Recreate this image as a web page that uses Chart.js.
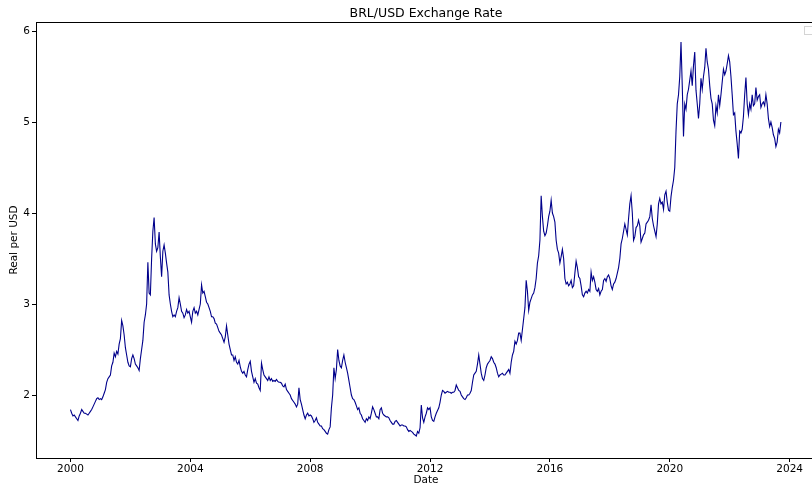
<!DOCTYPE html>
<html>
<head>
<meta charset="utf-8">
<title>BRL/USD Exchange Rate</title>
<script src="https://cdn.jsdelivr.net/npm/chart.js@4.4.1/dist/chart.umd.min.js"></script>
<style>
  html, body { margin: 0; padding: 0; background: #fff; overflow: hidden; }
  #wrap { width: 816px; height: 486px; }
</style>
</head>
<body>
<div id="wrap"><canvas id="rateChart" width="816" height="486"></canvas></div>
<script>
// BRL per USD, two readings a month (1st and 15th)
const startYear = 2000;
const rates2000 = [1.84, 1.80, 1.77, 1.78, 1.76, 1.74, 1.72, 1.77, 1.80, 1.84, 1.82, 1.80, 1.80, 1.79, 1.78, 1.80, 1.82, 1.84, 1.87, 1.90, 1.93, 1.96, 1.97, 1.95];
const rates2001 = [1.96, 1.95, 1.98, 2.02, 2.06, 2.14, 2.18, 2.20, 2.22, 2.32, 2.36, 2.46, 2.42, 2.48, 2.45, 2.56, 2.62, 2.82, 2.76, 2.66, 2.52, 2.44, 2.36, 2.32];
const rates2002 = [2.31, 2.40, 2.44, 2.40, 2.34, 2.32, 2.30, 2.27, 2.40, 2.50, 2.60, 2.80, 2.88, 3.00, 3.46, 3.12, 3.10, 3.50, 3.80, 3.95, 3.66, 3.58, 3.62, 3.79];
const rates2003 = [3.52, 3.30, 3.58, 3.65, 3.56, 3.45, 3.35, 3.10, 3.00, 2.92, 2.86, 2.88, 2.86, 2.92, 2.96, 3.07, 3.00, 2.92, 2.90, 2.85, 2.88, 2.94, 2.90, 2.92];
const rates2004 = [2.86, 2.80, 2.92, 2.96, 2.90, 2.92, 2.88, 2.94, 3.00, 3.21, 3.12, 3.14, 3.08, 3.02, 3.00, 2.96, 2.92, 2.86, 2.86, 2.84, 2.79, 2.78, 2.74, 2.70];
const rates2005 = [2.68, 2.66, 2.62, 2.58, 2.64, 2.76, 2.66, 2.56, 2.50, 2.44, 2.44, 2.38, 2.42, 2.36, 2.34, 2.38, 2.31, 2.26, 2.24, 2.26, 2.22, 2.20, 2.28, 2.34];
const rates2006 = [2.37, 2.26, 2.20, 2.14, 2.18, 2.13, 2.12, 2.08, 2.05, 2.35, 2.28, 2.22, 2.20, 2.18, 2.16, 2.20, 2.16, 2.18, 2.15, 2.16, 2.15, 2.17, 2.15, 2.14];
const rates2007 = [2.14, 2.13, 2.10, 2.09, 2.12, 2.06, 2.04, 2.02, 2.00, 1.96, 1.94, 1.92, 1.90, 1.87, 1.90, 2.08, 1.95, 1.90, 1.84, 1.78, 1.74, 1.78, 1.80, 1.77];
const rates2008 = [1.78, 1.77, 1.74, 1.70, 1.72, 1.75, 1.70, 1.68, 1.66, 1.66, 1.63, 1.62, 1.60, 1.58, 1.57, 1.62, 1.65, 1.86, 2.00, 2.30, 2.18, 2.28, 2.50, 2.38];
const rates2009 = [2.32, 2.30, 2.38, 2.44, 2.36, 2.30, 2.24, 2.16, 2.08, 2.00, 1.96, 1.95, 1.92, 1.88, 1.84, 1.86, 1.80, 1.78, 1.74, 1.72, 1.70, 1.74, 1.72, 1.76];
const rates2010 = [1.74, 1.80, 1.87, 1.84, 1.80, 1.76, 1.76, 1.74, 1.84, 1.86, 1.80, 1.78, 1.77, 1.76, 1.76, 1.75, 1.72, 1.70, 1.68, 1.68, 1.71, 1.72, 1.70, 1.68];
const rates2011 = [1.66, 1.67, 1.67, 1.66, 1.66, 1.65, 1.62, 1.60, 1.61, 1.60, 1.59, 1.57, 1.56, 1.55, 1.60, 1.58, 1.64, 1.89, 1.75, 1.70, 1.76, 1.80, 1.86, 1.84];
const rates2012 = [1.86, 1.76, 1.72, 1.71, 1.76, 1.80, 1.83, 1.86, 1.92, 2.00, 2.05, 2.04, 2.02, 2.03, 2.04, 2.03, 2.03, 2.02, 2.03, 2.03, 2.05, 2.11, 2.08, 2.05];
const rates2013 = [2.04, 2.00, 1.98, 1.96, 1.95, 1.97, 2.00, 2.00, 2.02, 2.05, 2.14, 2.22, 2.24, 2.26, 2.34, 2.44, 2.34, 2.24, 2.18, 2.16, 2.22, 2.30, 2.34, 2.36];
const rates2014 = [2.38, 2.42, 2.40, 2.36, 2.34, 2.30, 2.24, 2.20, 2.22, 2.23, 2.24, 2.22, 2.22, 2.24, 2.26, 2.28, 2.24, 2.36, 2.44, 2.48, 2.59, 2.56, 2.60, 2.68];
const rates2015 = [2.68, 2.60, 2.72, 2.84, 2.96, 3.26, 3.14, 2.93, 3.02, 3.06, 3.10, 3.12, 3.18, 3.28, 3.45, 3.53, 3.70, 4.19, 3.96, 3.80, 3.75, 3.78, 3.86, 3.96];
const rates2016 = [4.02, 4.14, 4.00, 3.96, 3.90, 3.70, 3.60, 3.56, 3.45, 3.52, 3.60, 3.50, 3.28, 3.22, 3.24, 3.20, 3.22, 3.26, 3.18, 3.20, 3.34, 3.47, 3.40, 3.30];
const rates2017 = [3.28, 3.20, 3.10, 3.08, 3.12, 3.14, 3.12, 3.16, 3.14, 3.35, 3.26, 3.30, 3.24, 3.16, 3.14, 3.17, 3.10, 3.14, 3.16, 3.26, 3.28, 3.25, 3.30, 3.32];
const rates2018 = [3.28, 3.20, 3.16, 3.22, 3.24, 3.28, 3.34, 3.40, 3.50, 3.66, 3.72, 3.80, 3.88, 3.82, 3.76, 3.94, 4.10, 4.19, 4.00, 3.70, 3.74, 3.84, 3.86, 3.92];
const rates2019 = [3.86, 3.68, 3.72, 3.76, 3.78, 3.88, 3.90, 3.92, 3.96, 4.09, 3.94, 3.86, 3.80, 3.74, 3.88, 4.10, 4.16, 4.10, 4.12, 4.04, 4.20, 4.24, 4.12, 4.03];
const rates2020 = [4.02, 4.18, 4.28, 4.36, 4.50, 4.90, 5.20, 5.30, 5.50, 5.88, 5.40, 4.84, 5.20, 5.14, 5.30, 5.36, 5.46, 5.56, 5.40, 5.62, 5.77, 5.35, 5.20, 5.04];
const rates2021 = [5.20, 5.48, 5.36, 5.50, 5.60, 5.81, 5.66, 5.58, 5.40, 5.26, 5.20, 5.02, 4.96, 5.18, 5.10, 5.30, 5.18, 5.30, 5.44, 5.58, 5.52, 5.56, 5.64, 5.73];
const rates2022 = [5.66, 5.50, 5.30, 5.08, 5.10, 4.90, 4.76, 4.60, 4.90, 4.88, 4.92, 5.06, 5.30, 5.49, 5.20, 5.08, 5.20, 5.14, 5.30, 5.18, 5.20, 5.38, 5.24, 5.28];
const rates2023 = [5.30, 5.16, 5.20, 5.22, 5.18, 5.30, 5.20, 5.04, 4.95, 5.00, 4.94, 4.86, 4.82, 4.73, 4.78, 4.92, 4.88, 5.00];

const yearTicks = [2000, 2004, 2008, 2012, 2016, 2020, 2024];
const rateTicks = [2, 3, 4, 5, 6];

const allYears = [rates2000, rates2001, rates2002, rates2003, rates2004, rates2005, rates2006, rates2007,
  rates2008, rates2009, rates2010, rates2011, rates2012, rates2013, rates2014, rates2015,
  rates2016, rates2017, rates2018, rates2019, rates2020, rates2021, rates2022, rates2023];

// each year gets 24 slots, so slot k sits at year + k/24
const points = [];
allYears.forEach((vals, i) => {
  vals.forEach((v, k) => points.push({ x: startYear + i + k / 24, y: v }));
});

const baseFont = { family: "'DejaVu Sans', sans-serif", size: 10.5 };
const labelFont = { family: "'DejaVu Sans', sans-serif", size: 10.5, lineHeight: 1.0 };

// draws the box round the plot and the empty legend frame in the corner
const framePlugin = {
  id: 'frame',
  afterDraw(chart) {
    const { ctx, chartArea: a } = chart;
    ctx.save();
    ctx.strokeStyle = '#000';
    ctx.lineWidth = 1;
    ctx.strokeRect(a.left + 0.5, a.top + 0.5, a.right - a.left - 1, a.bottom - a.top);
    ctx.strokeStyle = '#d4d4d4';
    ctx.strokeRect(a.right - 11.5, a.top + 4.5, 10, 8);
    ctx.restore();
  }
};

const ctx = document.getElementById('rateChart').getContext('2d');
const rateChart = new Chart(ctx, {
  type: 'line',
  data: {
    datasets: [{
      data: points,
      borderColor: '#00008b',
      borderWidth: 1.1,
      pointRadius: 0,
      tension: 0,
      fill: false
    }]
  },
  options: {
    responsive: false,
    animation: false,
    layout: { padding: 0 },
    plugins: {
      legend: { display: false },
      tooltip: { enabled: false },
      title: {
        display: true,
        fullSize: false,
        text: 'BRL/USD Exchange Rate',
        color: '#000',
        font: { family: "'DejaVu Sans', sans-serif", size: 12.5, weight: 'normal', lineHeight: 1.2 },
        padding: { top: 6, bottom: 1 }
      }
    },
    scales: {
      x: {
        type: 'linear',
        min: 1998.85,
        max: 2024.88,
        afterBuildTicks: s => { s.ticks = yearTicks.map(v => ({ value: v })); },
        afterFit: s => { s.height = 28; },
        ticks: { callback: v => String(v), color: '#000', font: baseFont, padding: 1, maxRotation: 0, autoSkip: false },
        grid: { display: true, drawOnChartArea: false, drawTicks: true, tickLength: 4, color: '#000' },
        border: { display: true, color: '#000', width: 1 },
        title: { display: true, text: 'Date', color: '#000', font: labelFont, padding: { top: 0, bottom: 0 } }
      },
      y: {
        min: 1.308,
        max: 6.099,
        afterBuildTicks: s => { s.ticks = rateTicks.map(v => ({ value: v })); },
        afterFit: s => { s.width = 36; },
        ticks: { callback: v => String(v), color: '#000', font: baseFont, padding: 2 },
        grid: { display: true, drawOnChartArea: false, drawTicks: true, tickLength: 4, color: '#000' },
        border: { display: true, color: '#000', width: 1 },
        title: { display: true, text: 'Real per USD', color: '#000', font: labelFont, padding: { top: 9, bottom: 0 } }
      }
    }
  },
  plugins: [framePlugin]
});
</script>
</body>
</html>
